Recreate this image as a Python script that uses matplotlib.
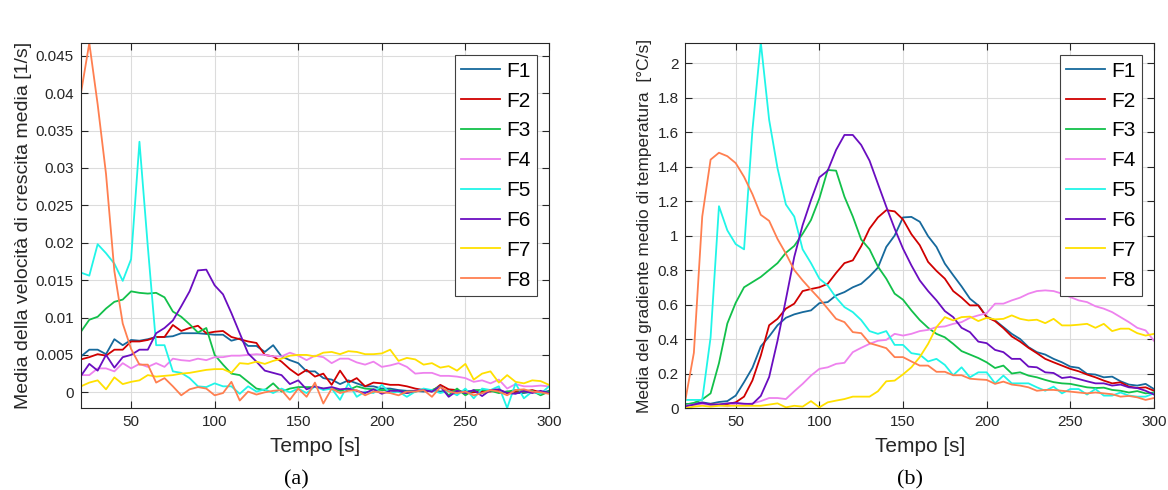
import numpy as np
import matplotlib
matplotlib.use("Agg")
from matplotlib import pyplot as plt

plt.rcParams["font.family"] = ["Liberation Sans", "DejaVu Sans"]

# tempo [s], un punto ogni 5 s
tempo = list(range(20, 301, 5))
serie = ["F1", "F2", "F3", "F4", "F5", "F6", "F7", "F8"]
colori = ["#16699c", "#d00000", "#12c04a", "#ee82ee",
          "#20f5e8", "#6a0dc0", "#ffe000", "#ff7f50"]

# (a) velocita di crescita media [1/s]
vel_F1 = [0.0048, 0.0057, 0.0057, 0.0051, 0.0071, 0.0063, 0.0070, 0.0069, 0.0071, 0.0074,
          0.0074, 0.0075, 0.0079, 0.0079, 0.0079, 0.0078, 0.0077, 0.0077, 0.0069, 0.0072,
          0.0062, 0.0062, 0.0054, 0.0063, 0.0048, 0.0043, 0.0039, 0.0028, 0.0028, 0.0019,
          0.0017, 0.0011, 0.0016, 0.0012, 0.0008, 0.0008, 0.0005, 0.0005, 0.0003, 0.0002,
          0.0002, 0.0001, 0.0003, 0.0001, 0.0003, 0.0000, 0.0002, 0.0001, -0.0001, 0.0003,
          0.0000, 0.0001, -0.0001, -0.0001, 0.0001, -0.0001, 0.0002]
vel_F2 = [0.0044, 0.0047, 0.0051, 0.0049, 0.0057, 0.0057, 0.0068, 0.0068, 0.0070, 0.0074,
          0.0074, 0.0090, 0.0082, 0.0086, 0.0089, 0.0079, 0.0081, 0.0082, 0.0074, 0.0071,
          0.0068, 0.0066, 0.0050, 0.0048, 0.0041, 0.0031, 0.0023, 0.0030, 0.0021, 0.0025,
          0.0010, 0.0029, 0.0013, 0.0019, 0.0008, 0.0013, 0.0012, 0.0010, 0.0010, 0.0008,
          0.0005, 0.0003, 0.0001, 0.0010, 0.0004, 0.0003, -0.0001, 0.0000, 0.0001, 0.0001,
          0.0003, -0.0001, 0.0001, 0.0001, 0.0003, 0.0000, -0.0001]
vel_F3 = [0.0081, 0.0097, 0.0101, 0.0112, 0.0121, 0.0124, 0.0135, 0.0133, 0.0132, 0.0133,
          0.0127, 0.0108, 0.0101, 0.0091, 0.0080, 0.0086, 0.0050, 0.0037, 0.0025, 0.0023,
          0.0014, 0.0005, 0.0003, 0.0012, 0.0001, 0.0005, 0.0007, 0.0007, 0.0007, 0.0005,
          0.0005, 0.0002, 0.0003, 0.0008, 0.0005, 0.0004, 0.0003, 0.0003, 0.0001, -0.0001,
          0.0001, 0.0003, 0.0003, 0.0008, -0.0004, 0.0005, -0.0004, 0.0003, 0.0003, 0.0002,
          -0.0001, 0.0001, 0.0003, 0.0001, 0.0002, -0.0004, 0.0001]
vel_F4 = [0.0023, 0.0023, 0.0032, 0.0032, 0.0028, 0.0039, 0.0032, 0.0038, 0.0034, 0.0039,
          0.0034, 0.0045, 0.0043, 0.0042, 0.0045, 0.0043, 0.0047, 0.0047, 0.0049, 0.0049,
          0.0050, 0.0051, 0.0050, 0.0048, 0.0048, 0.0053, 0.0049, 0.0043, 0.0049, 0.0047,
          0.0039, 0.0045, 0.0045, 0.0040, 0.0037, 0.0041, 0.0034, 0.0036, 0.0039, 0.0034,
          0.0025, 0.0026, 0.0026, 0.0022, 0.0022, 0.0021, 0.0019, 0.0014, 0.0016, 0.0012,
          0.0017, 0.0005, 0.0011, 0.0008, 0.0008, 0.0009, 0.0008]
vel_F5 = [0.0160, 0.0156, 0.0198, 0.0186, 0.0172, 0.0149, 0.0178, 0.0335, 0.0195, 0.0063,
          0.0063, 0.0028, 0.0026, 0.0019, 0.0008, 0.0007, 0.0012, 0.0008, 0.0008, -0.0002,
          0.0008, 0.0001, 0.0004, -0.0001, 0.0005, 0.0000, 0.0005, -0.0001, 0.0008, 0.0003,
          0.0005, -0.0010, 0.0012, -0.0006, 0.0001, -0.0001, 0.0010, -0.0001, 0.0001, -0.0006,
          0.0001, 0.0005, 0.0003, -0.0001, 0.0002, -0.0004, 0.0005, -0.0008, 0.0005, 0.0003,
          0.0008, -0.0021, 0.0012, -0.0008, 0.0001, -0.0002, 0.0008]
vel_F6 = [0.0022, 0.0038, 0.0029, 0.0050, 0.0033, 0.0047, 0.0050, 0.0057, 0.0057, 0.0079,
          0.0086, 0.0096, 0.0115, 0.0135, 0.0163, 0.0164, 0.0143, 0.0131, 0.0106, 0.0079,
          0.0052, 0.0041, 0.0029, 0.0026, 0.0023, 0.0011, 0.0016, 0.0004, 0.0008, 0.0005,
          0.0007, 0.0004, 0.0005, 0.0002, -0.0001, 0.0004, -0.0002, 0.0002, 0.0002, -0.0001,
          0.0002, 0.0003, 0.0001, 0.0008, -0.0006, 0.0002, -0.0001, 0.0003, -0.0005, 0.0003,
          0.0004, -0.0001, -0.0002, 0.0002, -0.0001, 0.0002, -0.0001]
vel_F7 = [0.0008, 0.0013, 0.0016, 0.0004, 0.0020, 0.0011, 0.0014, 0.0016, 0.0023, 0.0021,
          0.0022, 0.0023, 0.0025, 0.0026, 0.0028, 0.0030, 0.0031, 0.0031, 0.0026, 0.0039,
          0.0038, 0.0041, 0.0038, 0.0042, 0.0045, 0.0049, 0.0050, 0.0050, 0.0048, 0.0053,
          0.0054, 0.0051, 0.0055, 0.0054, 0.0051, 0.0051, 0.0052, 0.0057, 0.0042, 0.0046,
          0.0044, 0.0037, 0.0039, 0.0033, 0.0035, 0.0029, 0.0038, 0.0017, 0.0025, 0.0028,
          0.0013, 0.0023, 0.0014, 0.0012, 0.0016, 0.0015, 0.0010]
vel_F8 = [0.0400, 0.0467, 0.0385, 0.0292, 0.0162, 0.0092, 0.0058, 0.0037, 0.0037, 0.0013,
          0.0019, 0.0008, -0.0004, 0.0004, 0.0007, 0.0005, -0.0004, -0.0001, 0.0014, -0.0011,
          0.0001, -0.0003, 0.0000, 0.0002, 0.0003, -0.0010, 0.0005, -0.0006, 0.0013, -0.0015,
          0.0005, -0.0001, 0.0002, 0.0003, -0.0004, 0.0001, 0.0000, -0.0001, -0.0004, 0.0001,
          0.0001, 0.0003, -0.0006, 0.0007, 0.0001, -0.0001, 0.0001, -0.0004, -0.0001, 0.0003,
          0.0001, -0.0004, 0.0003, 0.0004, 0.0001, 0.0000, -0.0002]

# (b) gradiente medio di temperatura [°C/s]
grad_F1 = [0.023, 0.025, 0.033, 0.025, 0.035, 0.040, 0.072, 0.150, 0.233, 0.357,
           0.415, 0.480, 0.523, 0.543, 0.556, 0.566, 0.608, 0.614, 0.653, 0.672,
           0.700, 0.720, 0.763, 0.814, 0.934, 1.000, 1.105, 1.108, 1.080, 0.996,
           0.934, 0.837, 0.770, 0.705, 0.634, 0.595, 0.530, 0.508, 0.469, 0.430,
           0.400, 0.353, 0.324, 0.310, 0.285, 0.265, 0.240, 0.233, 0.198, 0.194,
           0.178, 0.182, 0.155, 0.136, 0.130, 0.140, 0.110]
grad_F2 = [0.013, 0.020, 0.027, 0.020, 0.020, 0.023, 0.033, 0.066, 0.160, 0.304,
           0.480, 0.517, 0.576, 0.605, 0.678, 0.690, 0.700, 0.720, 0.783, 0.840,
           0.856, 0.938, 1.040, 1.105, 1.147, 1.140, 1.093, 1.008, 0.944, 0.847,
           0.795, 0.750, 0.678, 0.640, 0.595, 0.595, 0.527, 0.504, 0.463, 0.415,
           0.385, 0.349, 0.318, 0.285, 0.265, 0.246, 0.227, 0.213, 0.194, 0.178,
           0.159, 0.143, 0.149, 0.124, 0.116, 0.120, 0.100]
grad_F3 = [0.020, 0.030, 0.050, 0.085, 0.260, 0.490, 0.610, 0.700, 0.730, 0.760,
           0.800, 0.840, 0.900, 0.940, 1.010, 1.090, 1.215, 1.380, 1.376, 1.225,
           1.110, 0.977, 0.920, 0.820, 0.750, 0.663, 0.628, 0.566, 0.510, 0.465,
           0.430, 0.410, 0.372, 0.330, 0.310, 0.290, 0.265, 0.232, 0.246, 0.200,
           0.207, 0.188, 0.178, 0.163, 0.150, 0.143, 0.140, 0.130, 0.120, 0.116,
           0.118, 0.105, 0.100, 0.090, 0.098, 0.085, 0.090]
grad_F4 = [0.013, 0.020, 0.022, 0.018, 0.020, 0.010, 0.025, 0.022, 0.027, 0.040,
           0.058, 0.058, 0.052, 0.097, 0.140, 0.188, 0.227, 0.236, 0.256, 0.262,
           0.324, 0.349, 0.372, 0.390, 0.395, 0.430, 0.420, 0.430, 0.446, 0.453,
           0.469, 0.473, 0.488, 0.498, 0.523, 0.537, 0.550, 0.605, 0.605, 0.624,
           0.640, 0.663, 0.678, 0.682, 0.678, 0.663, 0.643, 0.624, 0.614, 0.590,
           0.576, 0.556, 0.527, 0.498, 0.465, 0.450, 0.390]
grad_F5 = [0.047, 0.047, 0.047, 0.410, 1.170, 1.030, 0.950, 0.920, 1.610, 2.120,
           1.670, 1.390, 1.180, 1.110, 0.920, 0.840, 0.750, 0.710, 0.640, 0.585,
           0.556, 0.510, 0.446, 0.430, 0.446, 0.366, 0.366, 0.318, 0.310, 0.270,
           0.285, 0.250, 0.190, 0.236, 0.178, 0.207, 0.207, 0.143, 0.188, 0.143,
           0.143, 0.143, 0.120, 0.100, 0.124, 0.085, 0.110, 0.110, 0.078, 0.110,
           0.072, 0.072, 0.090, 0.072, 0.066, 0.066, 0.085]
grad_F6 = [0.010, 0.020, 0.030, 0.020, 0.020, 0.027, 0.030, 0.025, 0.023, 0.070,
           0.180, 0.390, 0.630, 0.876, 1.060, 1.205, 1.337, 1.376, 1.496, 1.583,
           1.583, 1.525, 1.434, 1.300, 1.167, 1.040, 0.924, 0.827, 0.740, 0.678,
           0.624, 0.562, 0.527, 0.465, 0.440, 0.385, 0.376, 0.337, 0.324, 0.285,
           0.285, 0.240, 0.236, 0.207, 0.203, 0.174, 0.180, 0.168, 0.155, 0.143,
           0.143, 0.130, 0.136, 0.120, 0.116, 0.100, 0.078]
grad_F7 = [0.000, 0.008, 0.013, 0.008, 0.013, 0.013, 0.013, 0.013, 0.013, 0.013,
           0.020, 0.027, 0.004, 0.013, 0.008, 0.040, 0.004, 0.033, 0.043, 0.052,
           0.066, 0.066, 0.066, 0.097, 0.155, 0.159, 0.195, 0.236, 0.295, 0.372,
           0.469, 0.527, 0.508, 0.527, 0.530, 0.504, 0.523, 0.514, 0.517, 0.537,
           0.517, 0.508, 0.512, 0.492, 0.517, 0.479, 0.479, 0.483, 0.488, 0.465,
           0.488, 0.446, 0.460, 0.460, 0.434, 0.420, 0.430]
grad_F8 = [0.050, 0.320, 1.110, 1.440, 1.480, 1.460, 1.420, 1.340, 1.240, 1.120,
           1.085, 0.980, 0.895, 0.800, 0.740, 0.686, 0.634, 0.576, 0.517, 0.498,
           0.440, 0.434, 0.376, 0.362, 0.347, 0.295, 0.295, 0.270, 0.246, 0.246,
           0.210, 0.210, 0.190, 0.190, 0.170, 0.166, 0.163, 0.140, 0.153, 0.136,
           0.130, 0.120, 0.100, 0.105, 0.105, 0.100, 0.095, 0.090, 0.085, 0.090,
           0.085, 0.080, 0.066, 0.070, 0.062, 0.047, 0.058]

velocita = [vel_F1, vel_F2, vel_F3, vel_F4, vel_F5, vel_F6, vel_F7, vel_F8]
gradiente = [grad_F1, grad_F2, grad_F3, grad_F4, grad_F5, grad_F6, grad_F7, grad_F8]

ytick_a = [0, 0.005, 0.01, 0.015, 0.02, 0.025, 0.03, 0.035, 0.04, 0.045]
ytick_a_lab = ["0", "0.005", "0.01", "0.015", "0.02", "0.025", "0.03", "0.035", "0.04", "0.045"]
ytick_b = [0, 0.2, 0.4, 0.6, 0.8, 1, 1.2, 1.4, 1.6, 1.8, 2]
ytick_b_lab = ["0", "0.2", "0.4", "0.6", "0.8", "1", "1.2", "1.4", "1.6", "1.8", "2"]
xtick = [50, 100, 150, 200, 250, 300]


def stile_assi(ax):
    ax.grid(True, color="#dcdcdc", linewidth=0.8)
    ax.set_axisbelow(True)
    ax.tick_params(direction="in", top=True, right=True, length=5, pad=5,
                   labelsize=11, colors="#262626", width=0.8)
    for s in ax.spines.values():
        s.set_color("#262626")
        s.set_linewidth(0.8)


fig = plt.figure(figsize=(11.68, 4.9), dpi=100)
ax1 = fig.add_axes([0.0693, 0.1673, 0.4007, 0.7449])
ax2 = fig.add_axes([0.5869, 0.1673, 0.4011, 0.7449])

for nome, col, v in zip(serie, colori, velocita):
    ax1.plot(tempo, v, color=col, linewidth=1.3, label=nome)
for nome, col, g in zip(serie, colori, gradiente):
    ax2.plot(tempo, g, color=col, linewidth=1.3, label=nome)

ax1.set_xlim(20, 300)
ax1.set_ylim(-0.0021, 0.0467)
ax1.set_xticks(xtick)
ax1.set_yticks(ytick_a)
ax1.set_yticklabels(ytick_a_lab)
ax1.set_xlabel("Tempo [s]", fontsize=15, color="#262626", labelpad=6)
ax1.set_ylabel("Media della velocità di crescita media [1/s]", fontsize=14,
               color="#262626", labelpad=3)
stile_assi(ax1)

ax2.set_xlim(20, 300)
ax2.set_ylim(0, 2.116)
ax2.set_xticks(xtick)
ax2.set_yticks(ytick_b)
ax2.set_yticklabels(ytick_b_lab)
ax2.set_xlabel("Tempo [s]", fontsize=15, color="#262626", labelpad=6)
ax2.set_ylabel("Media del gradiente medio di temperatura  [°C/s]", fontsize=12.5,
               color="#262626", labelpad=4)
stile_assi(ax2)

for ax in (ax1, ax2):
    leg = ax.legend(loc="upper right", bbox_to_anchor=(0.975, 0.967), fontsize=15,
                    frameon=True, fancybox=False, framealpha=1, edgecolor="#404040",
                    handlelength=1.85, handletextpad=0.3, labelspacing=0.52,
                    borderpad=0.32, borderaxespad=0)
    leg.get_frame().set_linewidth(0.8)

fig.text(0.2534, 0.02, "(a)", fontsize=16, family="Liberation Serif", ha="center", va="center")
fig.text(0.779, 0.02, "(b)", fontsize=16, family="Liberation Serif", ha="center", va="center")

plt.savefig("out.png", dpi=100)
plt.close()
